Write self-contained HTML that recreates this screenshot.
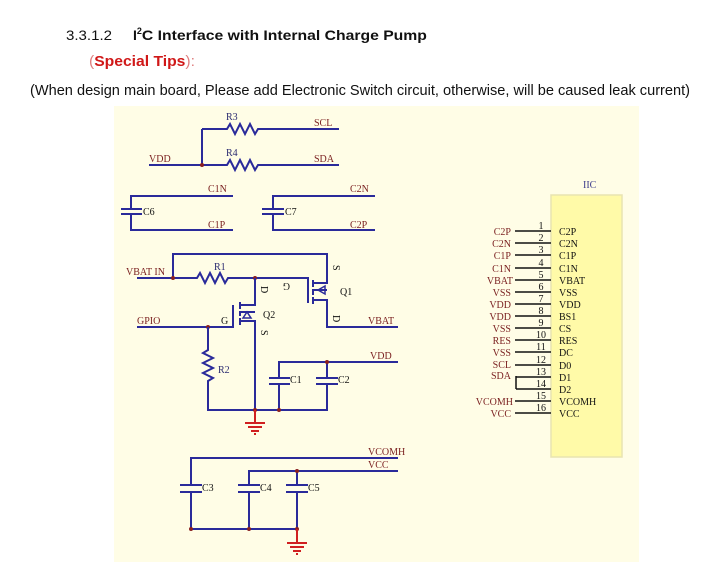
<!DOCTYPE html>
<html><head><meta charset="utf-8"><style>
html,body{margin:0;padding:0;background:#fff;width:727px;height:578px;overflow:hidden}
svg{display:block}
.w{stroke:#2a2a9a;stroke-width:2;fill:none}
.l{font-family:"Liberation Serif",serif;font-size:10px;fill:#7a1f1f}
.b{font-family:"Liberation Serif",serif;font-size:10px;fill:#2a2a70}
.k{font-family:"Liberation Serif",serif;font-size:10px;fill:#111}
.g{stroke:#d02020;stroke-width:2}
</style></head><body>
<svg width="727" height="578" viewBox="0 0 727 578" xmlns="http://www.w3.org/2000/svg">
<text x="66" y="40" font-family="Liberation Sans,sans-serif" font-size="14" fill="#111" textLength="46" lengthAdjust="spacingAndGlyphs">3.3.1.2</text>
<text x="133" y="40" font-family="Liberation Sans,sans-serif" font-size="14" font-weight="bold" fill="#111">I<tspan font-size="9" dy="-6">2</tspan><tspan dy="6" textLength="285" lengthAdjust="spacingAndGlyphs">C Interface with Internal Charge Pump</tspan></text>
<text x="89" y="66" font-family="Liberation Sans,sans-serif" font-size="15" font-weight="bold" fill="#d01818" textLength="106" lengthAdjust="spacingAndGlyphs"><tspan fill="#e08080" font-weight="normal">(</tspan>Special Tips<tspan fill="#e08080" font-weight="normal">):</tspan></text>
<text x="30" y="95" font-family="Liberation Sans,sans-serif" font-size="15" fill="#111" textLength="660" lengthAdjust="spacingAndGlyphs">(When design main board, Please add Electronic Switch circuit, otherwise, will be caused leak current)</text>
<rect x="114" y="106" width="525" height="456" fill="#fffde6"/>
<path class="w" d="M202 129H227l3 -5 5 10 5 -10 5 10 5 -10 5 10 3 -5H339"/>
<path class="w" d="M149 165H227l3 -5 5 10 5 -10 5 10 5 -10 5 10 3 -5H339M202 129V165"/>
<circle cx="202" cy="165" r="2" fill="#8a2020"/>
<text class="b" x="226" y="120">R3</text><text class="b" x="226" y="156">R4</text>
<text class="l" x="314" y="126">SCL</text><text class="l" x="314" y="162">SDA</text><text class="l" x="149" y="162">VDD</text>
<path class="w" d="M233 196H131V209M121 209H142M121 214H142M131 214V230H233"/>
<path class="w" d="M375 196H273V209M262 209H284M262 214H284M273 214V230H375"/>
<text class="k" x="143" y="215">C6</text><text class="k" x="285" y="215">C7</text>
<text class="l" x="208" y="192">C1N</text><text class="l" x="208" y="228">C1P</text>
<text class="l" x="350" y="192">C2N</text><text class="l" x="350" y="228">C2P</text>
<path class="w" d="M137 278H197l3 -5 5 10 5 -10 5 10 5 -10 5 10 3 -5H308V303M173 278V254H327V283H313M313 290H327M313 300H327V327H398"/>
<path class="w" d="M313 280V287M313 289V295M313 297V304"/>
<path d="M318 290L325 286V294Z" fill="none" stroke="#2a2a9a" stroke-width="1.5"/>
<circle cx="173" cy="278" r="2" fill="#8a2020"/><circle cx="255" cy="278" r="2" fill="#8a2020"/>
<text class="l" x="126" y="275">VBAT IN</text><text class="b" x="214" y="270">R1</text>
<text class="k" x="340" y="295">Q1</text><text class="l" x="368" y="324">VBAT</text>
<text class="k" x="330" y="268" transform="rotate(90 333 268)">S</text>
<text class="k" x="284" y="283" transform="rotate(180 287 283)">G</text>
<text class="k" x="330" y="318" transform="rotate(90 333 318)">D</text>
<path class="w" d="M255 278V305H241M241 312H255M241 321H255V410M137 327H233V305"/>
<path class="w" d="M240 302V309M240 311V316M240 318V325"/>
<path d="M247 312L243 318H251Z" fill="none" stroke="#2a2a9a" stroke-width="1.5"/>
<text class="k" x="258" y="289" transform="rotate(90 261 289)">D</text>
<text class="k" x="258" y="333" transform="rotate(90 261 333)">S</text>
<text class="k" x="263" y="318">Q2</text><text class="k" x="221" y="324">G</text>
<text class="l" x="137" y="324">GPIO</text>
<circle cx="208" cy="327" r="2" fill="#8a2020"/>
<path class="w" d="M208 327V350l-5 3 10 5 -10 5 10 5 -10 5 10 5 -5 3V410H327V384M327 378V362H279V378M279 384V410M269 378H290M269 384H290M316 378H338M316 384H338M327 362H398"/>
<text class="b" x="218" y="373">R2</text><text class="k" x="290" y="383">C1</text><text class="k" x="338" y="383">C2</text>
<text class="l" x="370" y="359">VDD</text>
<circle cx="327" cy="362" r="2" fill="#8a2020"/><circle cx="255" cy="410" r="2" fill="#8a2020"/><circle cx="279" cy="410" r="2" fill="#8a2020"/>
<path class="g" d="M255 410V422M245 423H265M248 427H262M251 431H259M254 434H256"/>
<path class="w" d="M398 458H191V485M191 492V529H297V492M297 485V471H249V485M249 492V529M297 471H398M180 485H202M180 492H202M238 485H260M238 492H260M286 485H308M286 492H308"/>
<text class="k" x="202" y="491">C3</text><text class="k" x="260" y="491">C4</text><text class="k" x="308" y="491">C5</text>
<text class="l" x="368" y="455">VCOMH</text><text class="l" x="368" y="468">VCC</text>
<circle cx="297" cy="471" r="2" fill="#8a2020"/><circle cx="191" cy="529" r="2" fill="#8a2020"/><circle cx="249" cy="529" r="2" fill="#8a2020"/><circle cx="297" cy="529" r="2" fill="#8a2020"/>
<path class="g" d="M297 529V542M287 543H307M290 547H304M293 551H301M296 554H298"/>
<rect x="551" y="195" width="71" height="262" fill="#fffaa8" stroke="#e8e4b0" stroke-width="1.5"/>
<text x="583" y="188" font-family="Liberation Serif,serif" font-size="10" fill="#3a3a8a">IIC</text>
<g stroke="#111" stroke-width="1.5">
<line x1="515" y1="231" x2="551" y2="231"/><line x1="515" y1="243" x2="551" y2="243"/><line x1="515" y1="255" x2="551" y2="255"/><line x1="515" y1="268" x2="551" y2="268"/><line x1="515" y1="280" x2="551" y2="280"/><line x1="515" y1="292" x2="551" y2="292"/><line x1="515" y1="304" x2="551" y2="304"/><line x1="515" y1="316" x2="551" y2="316"/><line x1="515" y1="328" x2="551" y2="328"/><line x1="515" y1="340" x2="551" y2="340"/><line x1="515" y1="352" x2="551" y2="352"/><line x1="515" y1="365" x2="551" y2="365"/><line x1="516" y1="377" x2="551" y2="377"/><line x1="516" y1="389" x2="551" y2="389"/><line x1="515" y1="401" x2="551" y2="401"/><line x1="515" y1="413" x2="551" y2="413"/>
<line x1="516" y1="376" x2="516" y2="389"/>
</g>
<g text-anchor="middle">
<text class="k" x="541" y="229">1</text><text class="k" x="541" y="241">2</text><text class="k" x="541" y="253">3</text><text class="k" x="541" y="266">4</text><text class="k" x="541" y="278">5</text><text class="k" x="541" y="290">6</text><text class="k" x="541" y="302">7</text><text class="k" x="541" y="314">8</text><text class="k" x="541" y="326">9</text><text class="k" x="541" y="338">10</text><text class="k" x="541" y="350">11</text><text class="k" x="541" y="363">12</text><text class="k" x="541" y="375">13</text><text class="k" x="541" y="387">14</text><text class="k" x="541" y="399">15</text><text class="k" x="541" y="411">16</text>
</g>
<g text-anchor="end">
<text class="l" x="511" y="235">C2P</text><text class="l" x="511" y="247">C2N</text><text class="l" x="511" y="259">C1P</text><text class="l" x="511" y="272">C1N</text><text class="l" x="513" y="284">VBAT</text><text class="l" x="511" y="296">VSS</text><text class="l" x="511" y="308">VDD</text><text class="l" x="511" y="320">VDD</text><text class="l" x="511" y="332">VSS</text><text class="l" x="511" y="344">RES</text><text class="l" x="511" y="356">VSS</text><text class="l" x="511" y="368">SCL</text><text class="l" x="511" y="379">SDA</text><text class="l" x="513" y="405">VCOMH</text><text class="l" x="511" y="417">VCC</text>
</g>
<g>
<text class="k" x="559" y="235">C2P</text><text class="k" x="559" y="247">C2N</text><text class="k" x="559" y="259">C1P</text><text class="k" x="559" y="272">C1N</text><text class="k" x="559" y="284">VBAT</text><text class="k" x="559" y="296">VSS</text><text class="k" x="559" y="308">VDD</text><text class="k" x="559" y="320">BS1</text><text class="k" x="559" y="332">CS</text><text class="k" x="559" y="344">RES</text><text class="k" x="559" y="356">DC</text><text class="k" x="559" y="369">D0</text><text class="k" x="559" y="381">D1</text><text class="k" x="559" y="393">D2</text><text class="k" x="559" y="405">VCOMH</text><text class="k" x="559" y="417">VCC</text>
</g>
</svg>
</body></html>
